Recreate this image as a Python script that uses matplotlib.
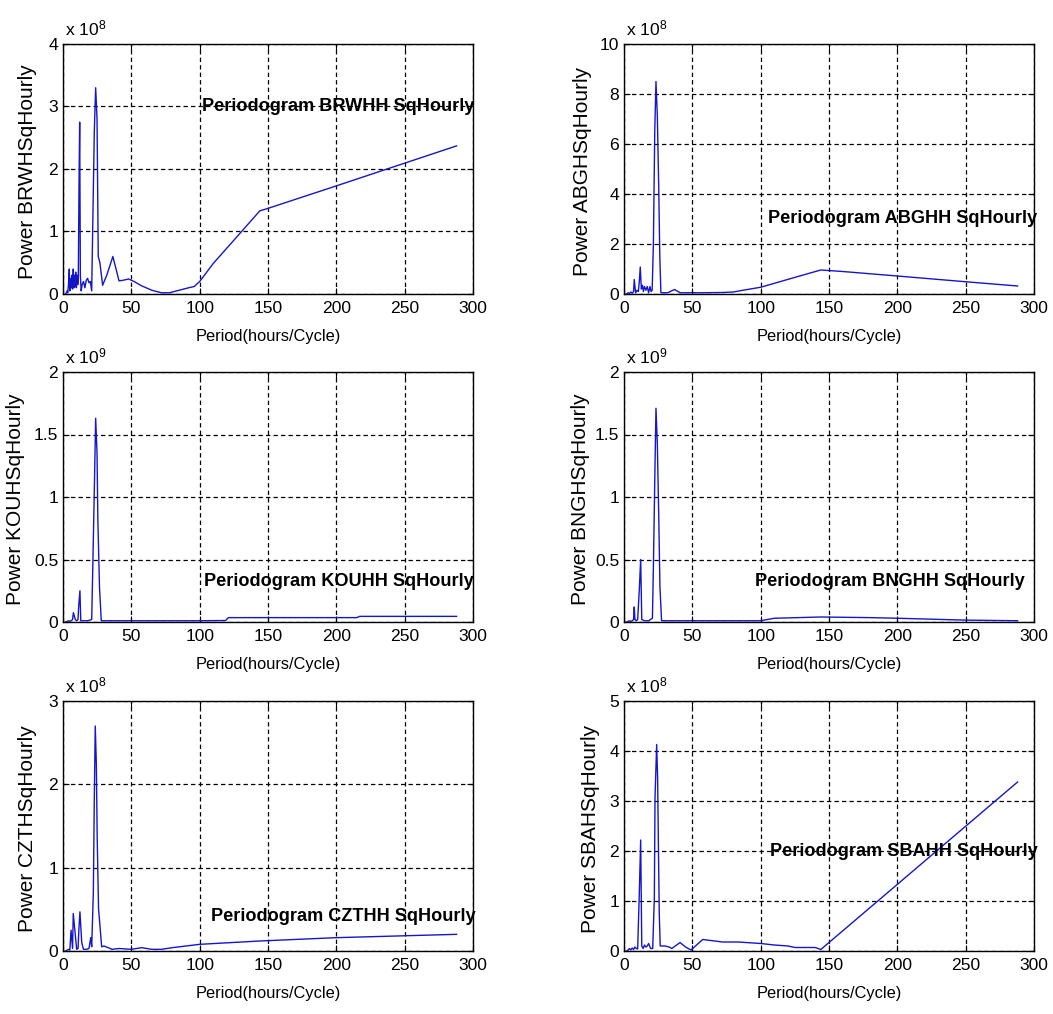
import numpy as np
import matplotlib
matplotlib.use("Agg")
import matplotlib.pyplot as plt
from matplotlib import font_manager
from matplotlib.ticker import FuncFormatter

# %% data (power in units of 10^exp)
brw_period = [2, 3, 3.5, 4, 4.6, 5, 5.5, 6, 6.5, 7, 7.5, 8, 8.5, 9, 9.3, 9.8, 10.3, 10.8, 11.2, 11.7,
              12.2, 12.7, 13.3, 14, 15, 16, 17, 18, 19, 20, 21, 22, 22.9, 23.9, 24.9, 25.8, 27, 29,
              32, 36.5, 41, 44, 48, 52, 57.6, 65, 72, 78, 85, 92, 96, 100, 110, 125, 144, 150, 200, 288]
brw_power = [0.0, 0.05, 0.02, 0.15, 0.4, 0.05, 0.25, 0.1, 0.3, 0.08, 0.4, 0.1, 0.3, 0.12, 0.35, 0.1,
             0.3, 0.15, 0.25, 1.7, 2.75, 0.3, 0.05, 0.15, 0.2, 0.1, 0.22, 0.25, 0.18, 0.2, 0.05, 1.4,
             2.6, 3.3, 2.8, 0.6, 0.5, 0.14, 0.3, 0.6, 0.21, 0.22, 0.24, 0.2, 0.13, 0.06, 0.02, 0.02,
             0.06, 0.1, 0.12, 0.2, 0.49, 0.86, 1.33, 1.37, 1.73, 2.37]

abg_period = [2, 3, 4, 5, 6, 7, 7.5, 8.5, 9.5, 10.5, 11.2, 11.9, 12.7, 13.5, 14.2, 15, 16, 17, 18, 19,
              19.8, 20.6, 21.5, 22.5, 23.4, 24.4, 25.4, 26.2, 27, 32, 37, 41, 48, 57.6, 72, 80, 87,
              100, 126, 144, 160, 200, 250, 288]
abg_power = [0.0, 0.05, 0.02, 0.08, 0.03, 0.1, 0.58, 0.05, 0.15, 0.1, 0.5, 1.08, 0.2, 0.35, 0.1, 0.3,
             0.15, 0.3, 0.05, 0.3, 0.1, 0.15, 2.0, 6.5, 8.5, 7.1, 4.3, 1.5, 0.05, 0.05, 0.18, 0.05,
             0.05, 0.05, 0.06, 0.08, 0.15, 0.27, 0.68, 0.96, 0.9, 0.72, 0.49, 0.32]

kou_period = [2, 3, 4, 5, 6, 7, 7.6, 9, 10, 11, 11.5, 12.4, 13, 15, 18, 21, 21.8, 23.2, 23.9, 24.9,
              25.5, 26.7, 28, 50, 100, 119, 121, 144, 200, 215, 217, 288]
kou_power = [0.0, 0.005, 0.01, 0.005, 0.01, 0.02, 0.075, 0.02, 0.01, 0.02, 0.13, 0.25, 0.01, 0.01,
             0.01, 0.02, 0.44, 1.22, 1.63, 1.35, 0.82, 0.28, 0.01, 0.01, 0.01, 0.012, 0.035, 0.035,
             0.035, 0.035, 0.045, 0.045]

bng_period = [2, 3, 4, 5, 6, 7, 7.5, 8, 9, 10, 11.2, 12.2, 13, 15, 18, 20.8, 21.5, 22.7, 23.4, 24.4,
              25.4, 26.3, 27.5, 36, 50, 100, 110, 144, 180, 200, 250, 288]
bng_power = [0.0, 0.005, 0.01, 0.005, 0.01, 0.02, 0.12, 0.02, 0.01, 0.02, 0.26, 0.5, 0.02, 0.01, 0.01,
             0.03, 0.44, 1.26, 1.71, 1.42, 0.86, 0.28, 0.01, 0.01, 0.01, 0.01, 0.03, 0.04, 0.035,
             0.03, 0.015, 0.01]

czt_period = [2, 3, 4, 5, 5.9, 7, 7.5, 8.8, 10, 11, 11.7, 12.4, 13.7, 15, 17, 19, 20.3, 21, 22.2, 22.9,
              23.6, 24.4, 25, 26, 28.3, 30, 36, 41, 50, 57.6, 65, 72, 80, 100, 144, 200, 288]
czt_power = [0.0, 0.01, 0.02, 0.01, 0.25, 0.03, 0.45, 0.23, 0.02, 0.03, 0.28, 0.47, 0.1, 0.02, 0.02,
             0.03, 0.16, 0.05, 0.7, 1.82, 2.7, 2.24, 1.38, 0.51, 0.05, 0.06, 0.02, 0.03, 0.02, 0.04,
             0.02, 0.02, 0.04, 0.08, 0.12, 0.16, 0.2]

sba_period = [2, 3, 4, 5, 6, 7, 8, 9, 10, 11.2, 12.2, 13, 14, 15, 16, 17, 18, 19.5, 21, 22.2, 22.7,
              23.9, 24.6, 25.2, 25.8, 26.5, 30, 33, 35, 41, 45, 49, 57.6, 66.5, 72, 83.5, 100, 110,
              120, 125, 140, 144, 288]
sba_power = [0.0, 0.02, 0.05, 0.02, 0.06, 0.03, 0.08, 0.05, 0.04, 1.16, 2.22, 0.1, 0.05, 0.12, 0.08,
             0.1, 0.15, 0.05, 0.05, 1.06, 3.07, 4.13, 3.46, 2.05, 0.75, 0.1, 0.1, 0.08, 0.05, 0.17,
             0.08, 0.02, 0.23, 0.2, 0.18, 0.18, 0.15, 0.12, 0.1, 0.07, 0.07, 0.03, 3.38]

names = ["BRWH", "ABGH", "KOUH", "BNGH", "CZTH", "SBAH"]
exps = [8, 8, 9, 9, 8, 8]
ymaxes = [4, 10, 2, 2, 3, 5]
ysteps = [1, 2, 0.5, 0.5, 1, 1]
periods = [brw_period, abg_period, kou_period, bng_period, czt_period, sba_period]
powers = [brw_power, abg_power, kou_power, bng_power, czt_power, sba_power]

# where the bold periodogram label sits (data coords, scaled units)
label_x = [102, 105, 103, 96, 108, 107]
label_y = [3.0, 3.0, 0.32, 0.32, 0.41, 2.0]
ylab_x = [-0.063, -0.078, -0.093, -0.083, -0.063, -0.059]

# %% fonts
avail = {f.name for f in font_manager.fontManager.ttflist}
if "Liberation Sans Narrow" in avail:
    narrow = "Liberation Sans Narrow"
    k = 1.0
else:
    narrow = "Liberation Sans"
    k = 0.84
plt.rcParams["font.family"] = [narrow, "DejaVu Sans"]
plt.rcParams["mathtext.default"] = "regular"

# %% figure
fig = plt.figure(figsize=(10.53, 10.14), dpi=100)
lefts = [63 / 1053, 624 / 1053]
bottoms = [1 - 294 / 1014, 1 - 622 / 1014, 1 - 951 / 1014]
w = 410 / 1053
h = 250 / 1014

for i in range(6):
    ax = fig.add_axes([lefts[i % 2], bottoms[i // 2], w, h])
    scale = 10.0 ** exps[i]
    ax.plot(periods[i], np.array(powers[i]) * scale, color="#1616c8", lw=1.0)
    ax.set_xlim(0, 300)
    ax.set_ylim(0, ymaxes[i] * scale)
    ax.set_xticks(np.arange(0, 301, 50))
    ax.set_yticks(np.arange(0, ymaxes[i] + 1e-9, ysteps[i]) * scale)
    ax.yaxis.set_major_formatter(FuncFormatter(lambda v, p, s=scale: f"{v / s:g}"))
    ax.grid(True, color="black", linestyle=(0, (3.5, 2.5)), lw=0.9)
    ax.tick_params(direction="in", length=4, top=True, right=True, labelsize=15 * k, color="black")
    ax.tick_params(axis="x", pad=5)
    ax.tick_params(axis="y", pad=3.5)
    for sp in ax.spines.values():
        sp.set_linewidth(1.0)
        sp.set_color("black")
    ax.set_xlabel("Period(hours/Cycle)", fontsize=14 * k)
    ax.xaxis.set_label_coords(0.5, -0.14)
    ax.set_ylabel("Power " + names[i] + "SqHourly", fontsize=15, family=["Liberation Sans", "DejaVu Sans"])
    ax.yaxis.set_label_coords(ylab_x[i], 0.49)
    ax.text(0.004, 1.035, "x 10$^{%d}$" % exps[i], transform=ax.transAxes,
            fontsize=15 * k, va="baseline", ha="left")
    ax.text(label_x[i], label_y[i] * scale, "Periodogram " + names[i] + "H SqHourly",
            fontsize=15.5 * k, fontweight="bold", va="center", ha="left")

fig.savefig("out.png", dpi=100)
